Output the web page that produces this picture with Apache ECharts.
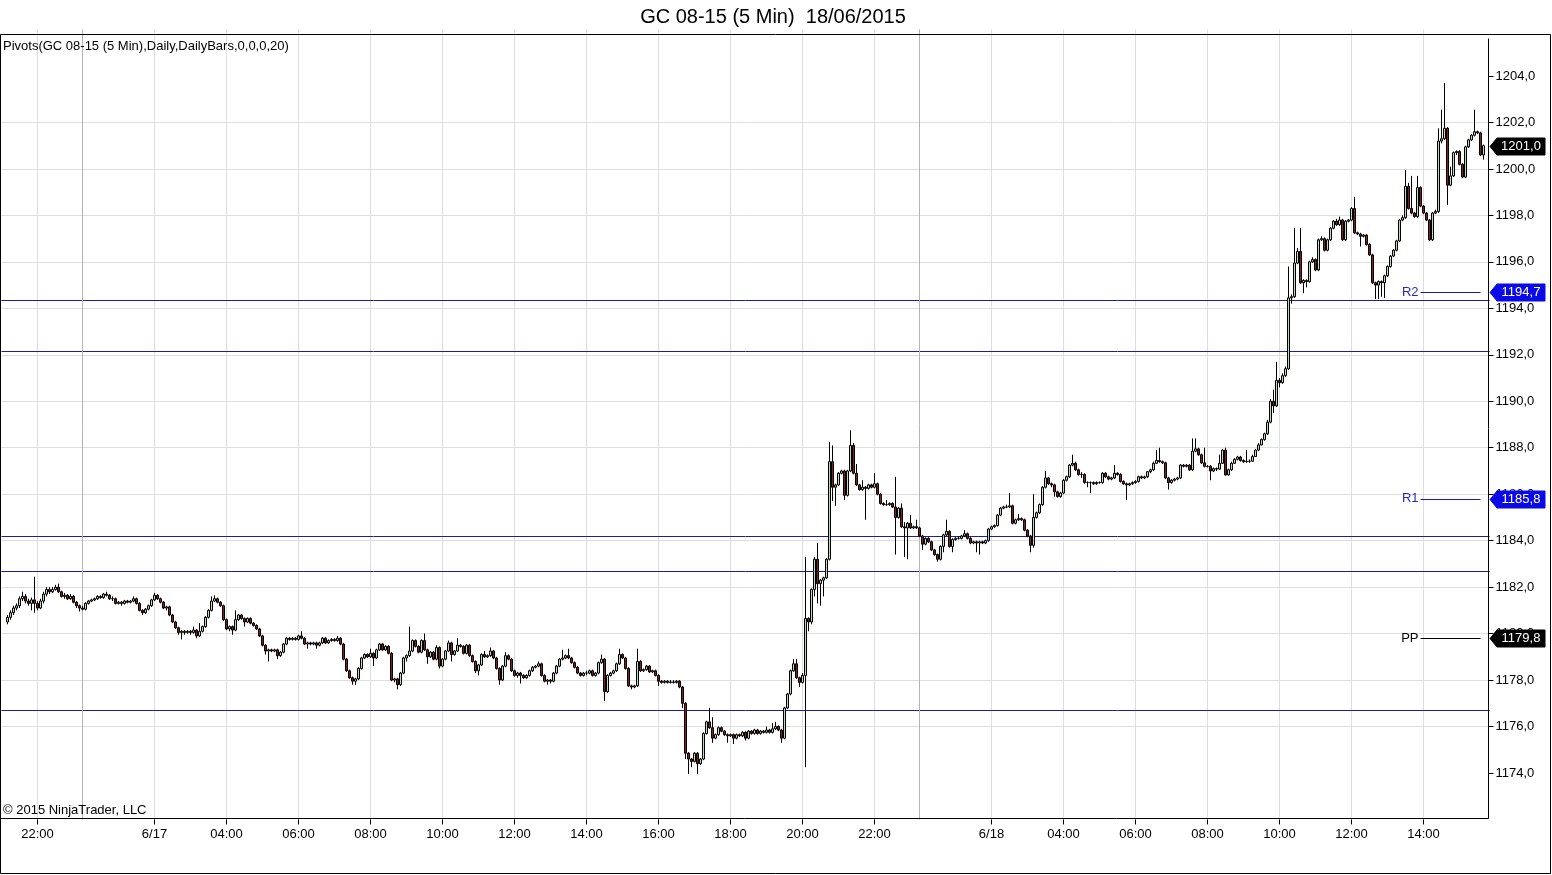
<!DOCTYPE html>
<html>
<head>
<meta charset="utf-8">
<script src="https://cdn.jsdelivr.net/npm/echarts@6/dist/echarts.min.js"></script>
<style>
html,body{margin:0;padding:0;background:#fff;}
#chart{width:1552px;height:875px;}
</style>
</head>
<body>
<div id="chart"></div>
<script>
// ---------- DATA ----------
const titleText = 'GC 08-15 (5 Min)  18/06/2015';
const indicatorText = 'Pivots(GC 08-15 (5 Min),Daily,DailyBars,0,0,0,20)';
const copyrightText = '\u00A9 2015 NinjaTrader, LLC';

// trading sessions (5-minute bars, break 23:15-00:00)
const sessions = [
  {date:'6/16', from:'21:10', to:'23:10'},
  {date:'6/17', from:'00:00', to:'23:10'},
  {date:'6/18', from:'00:00', to:'15:40'}
];

// x-axis tick labels: category -> label
const xTickLabels = {
  '6/16 22:00':'22:00', '6/17 02:00':'6/17', '6/17 04:00':'04:00', '6/17 06:00':'06:00',
  '6/17 08:00':'08:00', '6/17 10:00':'10:00', '6/17 12:00':'12:00', '6/17 14:00':'14:00',
  '6/17 16:00':'16:00', '6/17 18:00':'18:00', '6/17 20:00':'20:00', '6/17 22:00':'22:00',
  '6/18 02:00':'6/18', '6/18 04:00':'04:00', '6/18 06:00':'06:00', '6/18 08:00':'08:00',
  '6/18 10:00':'10:00', '6/18 12:00':'12:00', '6/18 14:00':'14:00'
};
const sessionBreaks = ['6/17 00:00', '6/18 00:00'];

// y-axis tick labels
const yTicks = [1174,1176,1178,1180,1182,1184,1186,1188,1190,1192,1194,1196,1198,1200,1202,1204];

// horizontal support / resistance lines
const hLines = [1194.34, 1192.14, 1184.18, 1182.67, 1176.69];

// daily pivots
const pivotNames  = ['R2', 'R1', 'PP'];
const pivotValues = [1194.7, 1185.8, 1179.8];
const pivotFrom = '6/18 13:55', pivotTo = '6/18 15:35';
const lastPrice = 1201.0;

// OHLC bars: [open, close, low, high]
const candles = [
// 0-9
[1180.5,1180.7,1180.4,1180.8],[1180.7,1180.9,1180.6,1181.0],[1180.9,1181.1,1180.8,1181.2],[1181.1,1181.2,1181.0,1181.3],[1181.2,1181.5,1181.1,1181.6],
[1181.5,1181.6,1181.4,1181.8],[1181.6,1181.4,1181.3,1181.7],[1181.4,1181.3,1181.2,1181.5],[1181.3,1181.45,1181.0,1181.55],[1181.45,1181.3,1180.9,1182.45],
// 10-19
[1181.3,1181.1,1181.0,1181.4],[1181.1,1181.4,1181.05,1181.5],[1181.4,1181.7,1181.3,1181.8],[1181.7,1181.9,1181.6,1182.0],[1181.9,1181.8,1181.7,1182.0],
[1181.8,1181.9,1181.75,1182.0],[1181.9,1182.0,1181.85,1182.1],[1182.0,1181.8,1181.75,1182.15],[1181.8,1181.6,1181.55,1181.85],[1181.6,1181.65,1181.5,1181.75],
// 20-29
[1181.65,1181.5,1181.45,1181.7],[1181.5,1181.6,1181.45,1181.7],[1181.6,1181.35,1181.3,1181.65],[1181.35,1181.2,1181.1,1181.4],[1181.2,1181.1,1180.95,1181.25],
[1181.1,1181.05,1181.0,1181.2],[1181.05,1181.3,1181.0,1181.35],[1181.3,1181.4,1181.25,1181.45],[1181.4,1181.45,1181.35,1181.5],[1181.45,1181.5,1181.4,1181.55],
// 30-39
[1181.5,1181.6,1181.45,1181.65],[1181.6,1181.55,1181.5,1181.65],[1181.55,1181.7,1181.5,1181.75],[1181.7,1181.65,1181.6,1181.8],[1181.65,1181.5,1181.45,1181.7],
[1181.5,1181.5,1181.4,1181.6],[1181.5,1181.3,1181.25,1181.55],[1181.3,1181.35,1181.25,1181.4],[1181.35,1181.3,1181.2,1181.4],[1181.3,1181.4,1181.25,1181.45],
// 40-49
[1181.4,1181.35,1181.3,1181.45],[1181.35,1181.4,1181.3,1181.45],[1181.4,1181.5,1181.35,1181.6],[1181.5,1181.3,1181.25,1181.55],[1181.3,1181.0,1180.95,1181.35],
[1181.0,1180.9,1180.8,1181.05],[1180.9,1181.05,1180.85,1181.1],[1181.05,1181.2,1181.0,1181.25],[1181.2,1181.45,1181.15,1181.5],[1181.45,1181.65,1181.4,1181.75],
// 50-59
[1181.65,1181.5,1181.45,1181.7],[1181.5,1181.35,1181.3,1181.55],[1181.35,1181.1,1181.05,1181.4],[1181.1,1181.15,1181.0,1181.2],[1181.15,1180.8,1180.75,1181.2],
[1180.8,1180.5,1180.45,1180.85],[1180.5,1180.25,1180.2,1180.55],[1180.25,1180.05,1179.95,1180.3],[1180.05,1180.1,1179.75,1180.15],[1180.1,1180.05,1179.95,1180.15],
// 60-69
[1180.05,1180.1,1180.0,1180.15],[1180.1,1180.05,1179.95,1180.15],[1180.05,1180.15,1180.0,1180.3],[1180.15,1179.9,1179.8,1180.2],[1179.9,1180.1,1179.85,1180.45],
[1180.1,1180.3,1180.05,1180.35],[1180.3,1180.7,1180.25,1180.75],[1180.7,1181.0,1180.65,1181.05],[1181.0,1181.4,1180.95,1181.6],[1181.4,1181.5,1181.35,1181.65],
// 70-79
[1181.5,1181.35,1181.3,1181.55],[1181.35,1181.2,1181.15,1181.4],[1181.2,1180.6,1180.55,1181.25],[1180.6,1180.2,1180.15,1180.65],[1180.2,1180.3,1180.1,1180.35],
[1180.3,1180.15,1179.95,1180.35],[1180.15,1180.6,1180.1,1181.0],[1180.6,1180.8,1180.55,1180.85],[1180.8,1180.65,1180.6,1180.85],[1180.65,1180.5,1180.3,1180.7],
// 80-89
[1180.5,1180.65,1180.45,1180.7],[1180.65,1180.45,1180.4,1180.7],[1180.45,1180.35,1180.3,1180.5],[1180.35,1180.2,1180.15,1180.4],[1180.2,1179.9,1179.85,1180.25],
[1179.9,1179.5,1179.45,1179.95],[1179.5,1179.25,1179.1,1179.55],[1179.25,1179.3,1178.8,1179.35],[1179.3,1179.25,1179.2,1179.35],[1179.25,1179.3,1179.2,1179.35],
// 90-99
[1179.3,1179.05,1178.9,1179.35],[1179.05,1179.2,1179.0,1179.25],[1179.2,1179.55,1179.15,1179.6],[1179.55,1179.8,1179.5,1179.85],[1179.8,1179.75,1179.7,1179.85],
[1179.75,1179.8,1179.7,1179.85],[1179.8,1179.75,1179.7,1179.85],[1179.75,1179.9,1179.7,1179.95],[1179.9,1179.8,1179.75,1180.1],[1179.8,1179.55,1179.5,1179.85],
// 100-109
[1179.55,1179.6,1179.35,1179.65],[1179.6,1179.55,1179.5,1179.65],[1179.55,1179.6,1179.5,1179.65],[1179.6,1179.5,1179.35,1179.65],[1179.5,1179.6,1179.45,1179.65],
[1179.6,1179.8,1179.55,1179.85],[1179.8,1179.6,1179.55,1179.85],[1179.6,1179.7,1179.55,1179.75],[1179.7,1179.75,1179.65,1179.8],[1179.75,1179.7,1179.65,1179.8],
// 110-119
[1179.7,1179.8,1179.65,1179.9],[1179.8,1179.55,1179.5,1179.85],[1179.55,1178.9,1178.85,1179.6],[1178.9,1178.4,1178.35,1178.95],[1178.4,1178.1,1178.05,1178.45],
[1178.1,1177.95,1177.8,1178.15],[1177.95,1178.05,1177.8,1178.1],[1178.05,1178.5,1178.0,1178.55],[1178.5,1178.95,1178.45,1179.0],[1178.95,1179.1,1178.9,1179.15],
// 120-129
[1179.1,1179.0,1178.95,1179.15],[1179.0,1179.15,1178.95,1179.35],[1179.15,1178.95,1178.6,1179.2],[1178.95,1179.3,1178.9,1179.35],[1179.3,1179.55,1179.25,1179.6],
[1179.55,1179.3,1179.25,1179.6],[1179.3,1179.45,1179.25,1179.5],[1179.45,1179.15,1179.1,1179.5],[1179.15,1178.0,1177.95,1179.2],[1178.0,1178.05,1177.9,1178.1],
// 130-139
[1178.05,1177.8,1177.6,1178.1],[1177.8,1178.3,1177.75,1178.35],[1178.3,1178.95,1178.25,1179.0],[1178.95,1179.05,1178.8,1179.1],[1179.05,1179.25,1179.0,1180.3],
[1179.25,1179.7,1179.2,1179.75],[1179.7,1179.45,1179.4,1179.75],[1179.45,1179.2,1179.15,1179.5],[1179.2,1179.7,1179.15,1179.75],[1179.7,1179.3,1179.25,1180.0],
// 140-149
[1179.3,1179.0,1178.7,1179.35],[1179.0,1179.2,1178.95,1179.25],[1179.2,1178.9,1178.85,1179.25],[1178.9,1179.4,1178.85,1179.5],[1179.4,1178.6,1178.5,1179.45],
[1178.6,1178.9,1178.55,1178.95],[1178.9,1179.25,1178.85,1179.3],[1179.25,1179.6,1179.2,1179.7],[1179.6,1179.1,1178.8,1179.65],[1179.1,1179.25,1179.05,1179.3],
// 150-159
[1179.25,1179.5,1179.2,1179.8],[1179.5,1179.45,1179.4,1179.55],[1179.45,1179.15,1179.1,1179.5],[1179.15,1179.5,1179.1,1179.55],[1179.5,1179.05,1179.0,1179.55],
[1179.05,1178.8,1178.75,1179.1],[1178.8,1178.4,1178.3,1178.85],[1178.4,1178.65,1178.2,1178.7],[1178.65,1179.1,1178.6,1179.15],[1179.1,1179.0,1178.95,1179.25],
// 160-169
[1179.0,1179.05,1178.95,1179.1],[1179.05,1179.25,1179.0,1179.4],[1179.25,1178.95,1178.9,1179.3],[1178.95,1178.5,1178.45,1179.0],[1178.5,1178.0,1177.8,1178.55],
[1178.0,1178.6,1177.95,1178.65],[1178.6,1179.05,1178.55,1179.2],[1179.05,1178.9,1178.85,1179.1],[1178.9,1178.4,1178.35,1178.95],[1178.4,1178.2,1178.15,1178.45],
// 170-179
[1178.2,1178.3,1178.1,1178.35],[1178.3,1178.2,1177.85,1178.35],[1178.2,1178.1,1178.05,1178.25],[1178.1,1178.2,1178.05,1178.25],[1178.2,1178.4,1178.15,1178.45],
[1178.4,1178.55,1178.35,1178.6],[1178.55,1178.6,1178.5,1178.65],[1178.6,1178.7,1178.55,1178.8],[1178.7,1178.2,1178.15,1178.75],[1178.2,1177.95,1177.9,1178.25],
// 180-189
[1177.95,1178.0,1177.8,1178.05],[1178.0,1177.95,1177.85,1178.05],[1177.95,1178.3,1177.9,1178.35],[1178.3,1178.6,1178.25,1178.65],[1178.6,1178.9,1178.55,1178.95],
[1178.9,1178.95,1178.85,1179.3],[1178.95,1179.05,1178.9,1179.1],[1179.05,1178.95,1178.9,1179.35],[1178.95,1178.75,1178.7,1179.0],[1178.75,1178.55,1178.5,1178.8],
// 190-199
[1178.55,1178.3,1178.25,1178.6],[1178.3,1178.2,1178.15,1178.35],[1178.2,1178.3,1178.15,1178.35],[1178.3,1178.3,1178.2,1178.4],[1178.3,1178.4,1178.25,1178.45],
[1178.4,1178.2,1178.15,1178.45],[1178.2,1178.3,1178.15,1178.35],[1178.3,1178.75,1178.25,1178.8],[1178.75,1178.9,1178.7,1179.1],[1178.9,1177.5,1177.1,1178.95],
// 200-209
[1177.5,1178.2,1177.45,1178.25],[1178.2,1178.3,1178.15,1178.35],[1178.3,1178.4,1178.25,1178.45],[1178.4,1178.7,1178.35,1178.75],[1178.7,1179.1,1178.65,1179.35],
[1179.1,1178.95,1178.9,1179.15],[1178.95,1178.5,1178.45,1179.0],[1178.5,1177.75,1177.7,1178.55],[1177.75,1177.7,1177.6,1177.8],[1177.7,1177.75,1177.65,1177.8],
// 210-219
[1177.75,1178.8,1177.7,1179.35],[1178.8,1178.4,1178.35,1178.85],[1178.4,1178.45,1178.35,1178.5],[1178.45,1178.6,1178.4,1178.65],[1178.6,1178.35,1178.3,1178.65],
[1178.35,1178.4,1178.3,1178.45],[1178.4,1178.2,1178.15,1178.45],[1178.2,1177.95,1177.75,1178.25],[1177.95,1177.9,1177.85,1178.0],[1177.9,1177.95,1177.85,1178.0],
// 220-229
[1177.95,1177.9,1177.85,1178.0],[1177.9,1177.92,1177.85,1178.0],[1177.92,1177.9,1177.85,1178.0],[1177.9,1177.95,1177.85,1178.0],[1177.95,1177.7,1177.65,1178.0],
[1177.7,1177.0,1176.8,1177.75],[1177.0,1174.85,1174.6,1177.05],[1174.85,1174.6,1173.95,1174.9],[1174.6,1174.5,1174.25,1174.65],[1174.5,1174.85,1174.45,1174.9],
// 230-239
[1174.85,1174.4,1173.95,1174.9],[1174.4,1174.6,1174.35,1174.65],[1174.6,1175.7,1174.55,1175.75],[1175.7,1176.2,1175.65,1176.25],[1176.2,1175.95,1175.9,1176.8],
[1175.95,1175.5,1175.3,1176.4],[1175.5,1175.65,1175.45,1175.7],[1175.65,1175.95,1175.6,1176.0],[1175.95,1175.8,1175.75,1176.0],[1175.8,1175.65,1175.6,1175.85],
// 240-249
[1175.65,1175.6,1175.3,1175.7],[1175.6,1175.65,1175.55,1175.7],[1175.65,1175.5,1175.25,1175.7],[1175.5,1175.65,1175.45,1175.7],[1175.65,1175.6,1175.55,1175.7],
[1175.6,1175.75,1175.55,1175.8],[1175.75,1175.5,1175.4,1175.8],[1175.5,1175.8,1175.45,1175.85],[1175.8,1175.7,1175.65,1175.85],[1175.7,1175.85,1175.65,1175.9],
// 250-259
[1175.85,1175.7,1175.65,1175.9],[1175.7,1175.8,1175.65,1175.85],[1175.8,1175.75,1175.7,1175.85],[1175.75,1175.85,1175.7,1176.0],[1175.85,1175.75,1175.7,1175.9],
[1175.75,1175.9,1175.7,1176.15],[1175.9,1176.0,1175.85,1176.2],[1176.0,1175.85,1175.8,1176.05],[1175.85,1175.5,1175.3,1175.9],[1175.5,1176.8,1175.45,1176.85],
// 260-269
[1176.8,1177.4,1176.75,1177.45],[1177.4,1178.4,1177.35,1178.45],[1178.4,1178.7,1178.35,1178.9],[1178.7,1178.1,1178.05,1178.9],[1178.1,1177.9,1177.7,1178.15],
[1177.9,1178.2,1177.85,1178.3],[1178.2,1180.65,1174.25,1183.3],[1180.65,1180.5,1180.1,1180.7],[1180.5,1181.9,1180.4,1181.95],[1181.9,1183.2,1181.6,1183.3],
// 270-279
[1183.2,1182.15,1181.3,1183.9],[1182.15,1182.3,1181.2,1182.35],[1182.3,1182.4,1181.6,1182.45],[1182.4,1183.2,1182.35,1183.25],[1183.2,1187.4,1183.15,1188.25],
[1187.4,1186.3,1185.7,1188.1],[1186.3,1186.4,1185.5,1186.45],[1186.4,1186.9,1186.35,1186.95],[1186.9,1187.0,1186.85,1187.05],[1187.0,1185.95,1185.75,1187.05],
// 280-289
[1185.95,1187.0,1185.9,1187.05],[1187.0,1188.1,1186.95,1188.75],[1188.1,1186.9,1186.85,1188.2],[1186.9,1186.4,1186.35,1187.3],[1186.4,1186.2,1186.15,1186.45],
[1186.2,1186.3,1186.15,1186.6],[1186.3,1186.25,1184.9,1186.35],[1186.25,1186.4,1186.2,1186.45],[1186.4,1186.3,1186.25,1186.45],[1186.3,1186.45,1186.25,1186.9],
// 290-299
[1186.45,1186.0,1185.95,1186.5],[1186.0,1185.6,1185.55,1186.05],[1185.6,1185.55,1185.5,1185.65],[1185.55,1185.55,1185.5,1185.75],[1185.55,1185.6,1185.5,1185.65],
[1185.6,1185.45,1185.4,1185.65],[1185.45,1185.0,1183.4,1186.75],[1185.0,1185.4,1184.95,1185.45],[1185.4,1184.6,1184.55,1185.6],[1184.6,1184.55,1183.3,1184.8],
// 300-309
[1184.55,1184.75,1183.2,1184.8],[1184.75,1184.55,1184.5,1185.1],[1184.55,1184.6,1184.5,1184.65],[1184.6,1184.55,1184.5,1184.9],[1184.55,1184.2,1184.15,1184.6],
[1184.2,1183.85,1183.6,1184.25],[1183.85,1184.1,1183.8,1184.15],[1184.1,1183.95,1183.9,1184.15],[1183.95,1183.6,1183.55,1184.0],[1183.6,1183.4,1183.35,1183.65],
// 310-319
[1183.4,1183.2,1183.1,1183.45],[1183.2,1183.75,1183.15,1183.8],[1183.75,1184.25,1183.5,1184.3],[1184.25,1184.4,1184.2,1184.9],[1184.4,1183.75,1183.7,1184.45],
[1183.75,1184.05,1183.5,1184.1],[1184.05,1184.1,1184.0,1184.15],[1184.1,1184.1,1184.05,1184.2],[1184.1,1184.2,1184.05,1184.25],[1184.2,1184.3,1184.15,1184.45],
// 320-329
[1184.3,1184.1,1184.05,1184.35],[1184.1,1183.9,1183.85,1184.15],[1183.9,1183.95,1183.85,1184.0],[1183.95,1183.9,1183.5,1184.0],[1183.9,1183.95,1183.4,1184.0],
[1183.95,1183.9,1183.85,1184.0],[1183.9,1184.0,1183.85,1184.05],[1184.0,1184.5,1183.95,1184.55],[1184.5,1184.6,1184.45,1184.65],[1184.6,1184.65,1184.55,1184.7],
// 330-339
[1184.65,1185.1,1184.6,1185.15],[1185.1,1185.4,1185.05,1185.45],[1185.4,1185.45,1185.35,1185.5],[1185.45,1185.45,1185.4,1185.55],[1185.45,1185.5,1185.4,1186.05],
[1185.5,1184.75,1184.7,1185.55],[1184.75,1184.9,1184.7,1184.95],[1184.9,1184.95,1184.85,1185.15],[1184.95,1184.9,1184.85,1185.0],[1184.9,1184.45,1184.4,1184.95],
// 340-349
[1184.45,1184.2,1184.15,1184.5],[1184.2,1183.8,1183.5,1184.25],[1183.8,1185.0,1183.7,1186.0],[1185.0,1185.2,1184.95,1185.25],[1185.2,1185.55,1185.15,1185.6],
[1185.55,1186.3,1185.5,1186.35],[1186.3,1186.7,1186.25,1187.0],[1186.7,1186.45,1186.4,1186.75],[1186.45,1186.4,1186.3,1186.5],[1186.4,1186.1,1185.9,1186.45],
// 350-359
[1186.1,1185.9,1185.85,1186.15],[1185.9,1186.05,1185.85,1186.1],[1186.05,1186.6,1186.0,1186.65],[1186.6,1186.75,1186.55,1186.8],[1186.75,1187.25,1186.7,1187.3],
[1187.25,1187.33,1187.2,1187.7],[1187.33,1187.05,1187.0,1187.4],[1187.05,1186.85,1186.8,1187.1],[1186.85,1186.85,1186.7,1186.95],[1186.85,1186.5,1186.45,1186.9],
// 360-369
[1186.5,1186.5,1186.3,1186.55],[1186.5,1186.5,1186.05,1186.55],[1186.5,1186.45,1186.4,1186.55],[1186.45,1186.5,1186.4,1186.55],[1186.5,1186.5,1186.45,1186.55],
[1186.5,1186.9,1186.45,1186.95],[1186.9,1186.75,1186.7,1186.95],[1186.75,1186.65,1186.6,1186.8],[1186.65,1186.7,1186.6,1186.75],[1186.7,1186.9,1186.65,1187.25],
// 370-379
[1186.9,1186.85,1186.8,1186.95],[1186.85,1186.55,1186.5,1186.9],[1186.55,1186.45,1186.4,1186.6],[1186.45,1186.4,1185.75,1186.5],[1186.4,1186.45,1186.35,1186.5],
[1186.45,1186.5,1186.4,1186.55],[1186.5,1186.55,1186.45,1186.6],[1186.55,1186.75,1186.5,1186.8],[1186.75,1186.7,1186.65,1186.8],[1186.7,1186.75,1186.65,1186.8],
// 380-389
[1186.75,1186.97,1186.7,1187.0],[1186.97,1187.05,1186.9,1187.1],[1187.05,1187.33,1187.0,1187.4],[1187.33,1187.45,1187.3,1187.9],[1187.45,1187.4,1187.35,1188.0],
[1187.4,1187.35,1187.3,1187.45],[1187.35,1186.7,1186.65,1187.4],[1186.7,1186.5,1186.2,1186.75],[1186.5,1186.6,1186.45,1186.65],[1186.6,1186.65,1186.55,1186.7],
// 390-399
[1186.65,1186.7,1186.6,1186.75],[1186.7,1187.25,1186.65,1187.3],[1187.25,1187.2,1187.15,1187.3],[1187.2,1187.25,1187.15,1187.3],[1187.25,1187.05,1187.0,1187.3],
[1187.05,1187.85,1187.0,1188.4],[1187.85,1187.95,1187.8,1188.4],[1187.95,1187.7,1187.65,1188.0],[1187.7,1187.35,1187.3,1187.75],[1187.35,1187.2,1187.15,1188.0],
// 400-409
[1187.2,1187.2,1187.15,1187.25],[1187.2,1187.0,1186.6,1187.25],[1187.0,1187.1,1186.95,1187.15],[1187.1,1187.08,1187.0,1187.15],[1187.08,1187.33,1187.05,1187.7],
[1187.33,1187.9,1187.3,1187.95],[1187.9,1186.83,1186.8,1188.0],[1186.83,1187.05,1186.8,1187.1],[1187.05,1187.33,1187.0,1187.4],[1187.33,1187.5,1187.3,1187.55],
// 410-419
[1187.5,1187.6,1187.45,1187.65],[1187.6,1187.45,1187.4,1187.65],[1187.45,1187.4,1187.35,1187.5],[1187.4,1187.42,1187.35,1187.9],[1187.42,1187.42,1187.35,1187.5],
[1187.42,1187.62,1187.4,1187.7],[1187.62,1187.9,1187.6,1187.95],[1187.9,1188.12,1187.85,1188.2],[1188.12,1188.35,1188.1,1188.4],[1188.35,1188.6,1188.3,1188.65],
// 420-429
[1188.6,1189.1,1188.55,1189.2],[1189.1,1190.0,1189.05,1190.1],[1190.0,1189.8,1189.5,1190.5],[1189.8,1190.9,1189.75,1191.7],[1190.9,1190.8,1190.6,1191.0],
[1190.8,1191.1,1190.75,1191.2],[1191.1,1191.4,1191.05,1191.5],[1191.4,1194.45,1191.35,1195.8],[1194.45,1194.5,1194.2,1194.6],[1194.5,1195.95,1194.45,1197.45],
// 430-439
[1195.95,1196.45,1195.9,1196.6],[1196.45,1195.1,1195.05,1197.45],[1195.1,1195.2,1194.65,1195.25],[1195.2,1195.15,1194.9,1195.25],[1195.15,1196.0,1195.1,1196.05],
[1196.0,1196.1,1195.95,1196.2],[1196.1,1195.65,1195.6,1196.15],[1195.65,1196.95,1195.6,1197.0],[1196.95,1197.0,1196.9,1197.1],[1197.0,1196.5,1196.45,1197.05],
// 440-449
[1196.5,1196.95,1196.45,1197.0],[1196.95,1197.45,1196.9,1197.5],[1197.45,1197.75,1197.4,1197.8],[1197.75,1197.6,1197.55,1197.85],[1197.6,1197.8,1197.55,1197.95],
[1197.8,1196.95,1196.9,1197.85],[1196.95,1197.75,1196.9,1197.8],[1197.75,1197.8,1197.7,1197.85],[1197.8,1198.3,1197.75,1198.35],[1198.3,1197.25,1197.2,1198.8],
// 450-459
[1197.25,1197.2,1197.15,1197.3],[1197.2,1197.1,1196.66,1197.25],[1197.1,1197.15,1197.05,1197.2],[1197.15,1196.75,1196.7,1197.2],[1196.75,1196.3,1196.25,1196.8],
[1196.3,1195.1,1195.05,1196.35],[1195.1,1195.0,1194.4,1195.15],[1195.0,1195.15,1194.4,1195.2],[1195.15,1195.1,1194.5,1195.2],[1195.1,1195.4,1194.45,1195.45],
// 460-469
[1195.4,1195.8,1195.35,1195.85],[1195.8,1196.25,1195.75,1196.3],[1196.25,1196.5,1196.2,1196.55],[1196.5,1196.9,1196.45,1196.95],[1196.9,1197.8,1196.85,1197.85],
[1197.8,1197.9,1197.75,1198.0],[1197.9,1199.25,1197.85,1199.96],[1199.25,1198.3,1198.25,1199.4],[1198.3,1198.1,1198.05,1199.7],[1198.1,1197.95,1197.9,1198.15],
// 470-479
[1197.95,1199.2,1197.9,1199.7],[1199.2,1198.4,1198.35,1199.25],[1198.4,1198.1,1198.05,1198.45],[1198.1,1197.8,1197.75,1198.15],[1197.8,1196.95,1196.9,1197.85],
[1196.95,1198.1,1196.9,1198.15],[1198.1,1198.17,1198.05,1198.25],[1198.17,1201.2,1198.1,1201.75],[1201.2,1201.3,1201.1,1202.55],[1201.3,1201.75,1201.25,1203.7],
// 480-489
[1201.75,1199.3,1198.45,1201.8],[1199.3,1199.7,1199.25,1200.1],[1199.7,1200.7,1199.65,1200.75],[1200.7,1200.75,1200.6,1200.8],[1200.75,1200.2,1200.15,1200.8],
[1200.2,1199.65,1199.6,1200.25],[1199.65,1200.95,1199.6,1201.0],[1200.95,1201.25,1200.9,1201.3],[1201.25,1201.45,1201.2,1201.5],[1201.45,1201.6,1201.4,1202.55],
// 490-492
[1201.6,1201.55,1201.5,1201.65],[1201.55,1200.6,1200.55,1201.6],[1200.6,1201.0,1200.4,1201.05]
];

// ---------- BUILD ----------
const FONT = '"Liberation Sans", Arial, sans-serif';
function pad2(n){ return (n < 10 ? '0' : '') + n; }
function toMin(s){ const p = s.split(':'); return (+p[0]) * 60 + (+p[1]); }
const times = [];
sessions.forEach(s => {
  for (let t = toMin(s.from); t <= toMin(s.to); t += 5) {
    times.push(s.date + ' ' + pad2(Math.floor(t / 60)) + ':' + pad2(t % 60));
  }
});
const LEAD = 2, TRAIL = 2;
const categories = [];
for (let k = 0; k < LEAD; k++) categories.push('pad_s' + k);
times.forEach(t => categories.push(t));
for (let k = 0; k < TRAIL; k++) categories.push('pad_e' + k);

const seriesData = candles.map((c, k) => [times[k], c[0], c[1], c[2], c[3]]);

const isLabeled = (idx, val) => xTickLabels[val] !== undefined;

const fmtNum = v => v.toFixed(1).replace('.', ',');

const chart = echarts.init(document.getElementById('chart'), null, {renderer: 'canvas'});

const LINE_BLUE = '#1c1ca4';
const pivotColors = ['#2a2ab8', '#2a2ab8', '#000000'];
const pivotLineColors = [LINE_BLUE, LINE_BLUE, '#000000'];

const markLineData = [];
hLines.forEach(v => markLineData.push({yAxis: v, lineStyle: {color: LINE_BLUE, width: 1, type: 'solid'}, label: {show: false}}));
sessionBreaks.forEach(c => markLineData.push({xAxis: c, lineStyle: {color: '#b4b4b4', width: 1, type: 'solid'}, label: {show: false}}));
pivotNames.forEach((n, k) => {
  markLineData.push([
    {coord: [pivotFrom, pivotValues[k]], lineStyle: {color: pivotLineColors[k], width: 1, type: 'solid'},
     label: {show: true, position: 'start', formatter: n, color: pivotColors[k], fontSize: 13, fontFamily: FONT, distance: 2}},
    {coord: [pivotTo, pivotValues[k]]}
  ]);
});

const GRID_TOP = 29.53, GRID_H = 789.93;

chart.setOption({
  animation: false,
  backgroundColor: '#ffffff',
  grid: {left: 1.5, width: 1488, top: GRID_TOP, height: GRID_H, containLabel: false},
  xAxis: {
    type: 'category', data: categories, boundaryGap: false,
    axisLine: {show: false},
    axisTick: {show: true, interval: isLabeled, length: 5, lineStyle: {color: '#000'}},
    axisLabel: {show: true, interval: isLabeled, formatter: v => xTickLabels[v] || '', color: '#000', fontSize: 13, fontFamily: FONT, margin: 8},
    splitLine: {show: true, interval: isLabeled, lineStyle: {color: '#dedede', width: 1}}
  },
  yAxis: {
    type: 'value', position: 'right', offset: -1, min: 1172, max: 1206, interval: 2, scale: true,
    axisLine: {show: false},
    axisTick: {show: true, length: 5, lineStyle: {color: '#000'}, customValues: yTicks},
    axisLabel: {show: true, customValues: yTicks, margin: 7, color: '#000', fontSize: 13, fontFamily: FONT,
      formatter: v => (v < 1173 || v > 1205) ? '' : fmtNum(v)},
    splitLine: {show: true, showMinLine: false, showMaxLine: false, lineStyle: {color: '#dedede', width: 1}}
  },
  series: [{
    type: 'candlestick',
    data: seriesData,
    encode: {x: 0, y: [1, 2, 3, 4]},
    barWidth: 2,
    itemStyle: {color: '#bcdcbc', color0: '#8b1a1a', borderColor: '#000', borderColor0: '#000', borderColorDoji: '#000', borderWidth: 1},
    markLine: {silent: true, symbol: ['none', 'none'], animation: false, data: markLineData, z: 1}
  }],
  graphic: [
    {id: 'frame', type: 'rect', shape: {x: 0.5, y: 34.5, width: 1550, height: 839}, style: {fill: 'none', stroke: '#000', lineWidth: 1}, z: 50, silent: true},
    {id: 'xline', type: 'line', shape: {x1: 0, y1: 818.5, x2: 1488.5, y2: 818.5}, style: {stroke: '#000', lineWidth: 1}, z: 50, silent: true},
    {id: 'yline', type: 'line', shape: {x1: 1488.5, y1: 38.5, x2: 1488.5, y2: 818.5}, style: {stroke: '#000', lineWidth: 1}, z: 50, silent: true},
    {id: 'title', type: 'text', x: 773, y: 17, style: {text: titleText, fill: '#000', font: '20px ' + FONT, textAlign: 'center', textVerticalAlign: 'middle'}, z: 50, silent: true},
    {id: 'ind', type: 'text', left: 3, top: 40, style: {text: indicatorText, fill: '#000', font: '13px ' + FONT}, z: 50, silent: true},
    {id: 'copy', type: 'text', left: 3, top: 804, style: {text: copyrightText, fill: '#000', font: '13px ' + FONT}, z: 50, silent: true}
  ]
});

// value tags on the right axis
const tagDefs = [
  {v: lastPrice, fill: '#000000'},
  {v: pivotValues[0], fill: '#0a0ae6'},
  {v: pivotValues[1], fill: '#0a0ae6'},
  {v: pivotValues[2], fill: '#000000'}
];
const tagEls = [];
tagDefs.forEach((t, k) => {
  const y = Math.round(chart.convertToPixel({yAxisIndex: 0}, t.v)) + 0.5;
  tagEls.push({
    id: 'tag' + k, type: 'polygon', z: 60, silent: true,
    shape: {points: [[1490, y], [1497, y - 8.5], [1545, y - 8.5], [1545, y + 8.5], [1497, y + 8.5]]},
    style: {fill: t.fill, stroke: t.fill}
  });
  tagEls.push({
    id: 'tagt' + k, type: 'text', z: 61, silent: true,
    x: 1521, y: y,
    style: {text: fmtNum(t.v), fill: '#fff', font: '13px ' + FONT, textAlign: 'center', textVerticalAlign: 'middle'}
  });
});
if (times.length !== candles.length) {
  tagEls.push({id: 'err', type: 'text', left: 600, top: 300, style: {text: 'LEN MISMATCH ' + times.length + ' vs ' + candles.length, fill: 'red', font: '20px sans-serif'}, z: 100});
}
chart.setOption({graphic: tagEls});
</script>
</body>
</html>
